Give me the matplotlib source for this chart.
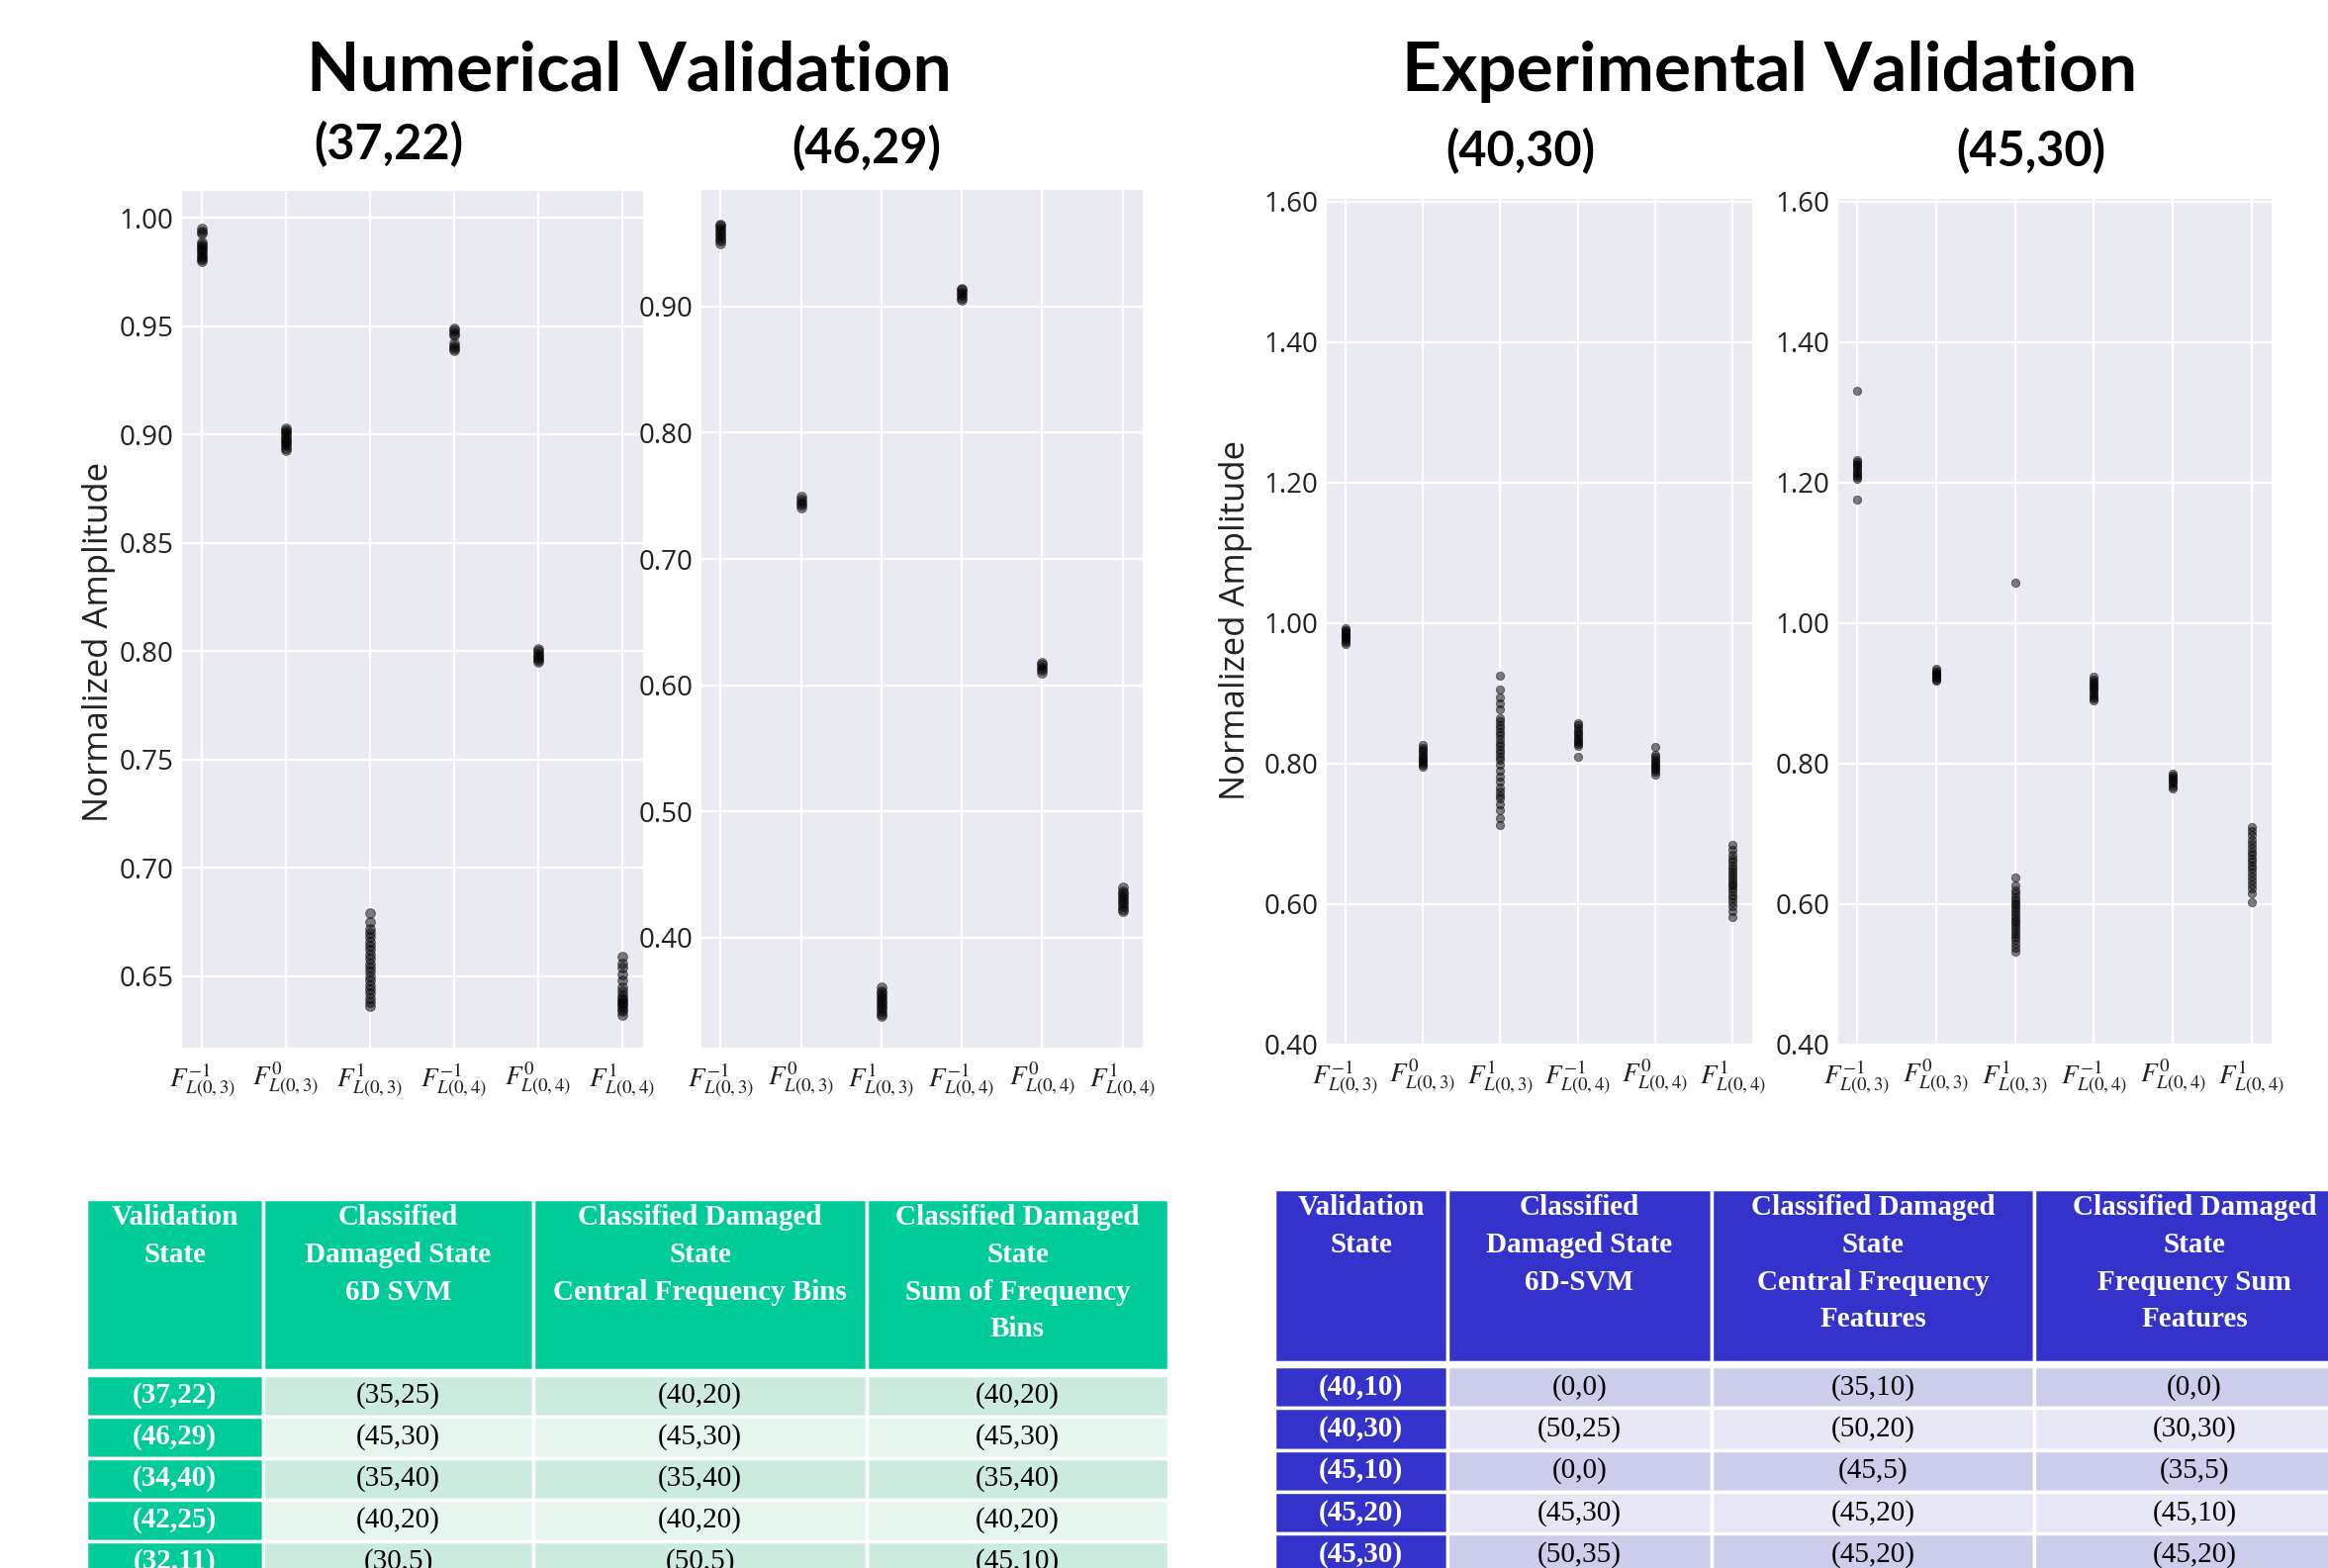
import numpy as np
import matplotlib
matplotlib.use('Agg')
import matplotlib.pyplot as plt
import seaborn as sns
from matplotlib.patches import Rectangle
from matplotlib.ticker import FormatStrFormatter

sns.set_style('darkgrid')
plt.rcParams['font.family'] = ['Open Sans', 'DejaVu Sans']
plt.rcParams['mathtext.fontset'] = 'stix'

features = [r'$F^{-1}_{L(0,3)}$', r'$F^{0}_{L(0,3)}$', r'$F^{1}_{L(0,3)}$',
            r'$F^{-1}_{L(0,4)}$', r'$F^{0}_{L(0,4)}$', r'$F^{1}_{L(0,4)}$']

# numerical validation, state (37,22)
num_37_22 = [
    [0.980, 0.981, 0.982, 0.983, 0.984, 0.985, 0.986, 0.987, 0.988, 0.989, 0.993, 0.994, 0.995],
    [0.893, 0.894, 0.895, 0.896, 0.897, 0.898, 0.899, 0.900, 0.901, 0.902, 0.903],
    [0.636, 0.638, 0.640, 0.642, 0.644, 0.646, 0.648, 0.650, 0.652, 0.654, 0.656, 0.658,
     0.660, 0.662, 0.664, 0.666, 0.668, 0.670, 0.672, 0.675, 0.679],
    [0.939, 0.940, 0.941, 0.942, 0.946, 0.947, 0.948, 0.949],
    [0.795, 0.796, 0.797, 0.798, 0.799, 0.800, 0.801],
    [0.632, 0.634, 0.635, 0.636, 0.637, 0.638, 0.639, 0.640, 0.641, 0.643, 0.645, 0.648,
     0.651, 0.654, 0.656, 0.659],
]
# numerical validation, state (46,29)
num_46_29 = [
    [0.950, 0.952, 0.954, 0.956, 0.958, 0.960, 0.962, 0.964, 0.965],
    [0.741, 0.743, 0.745, 0.747, 0.749],
    [0.338, 0.340, 0.342, 0.344, 0.346, 0.348, 0.350, 0.352, 0.354, 0.356, 0.358, 0.361],
    [0.905, 0.907, 0.909, 0.911, 0.913, 0.914],
    [0.610, 0.612, 0.614, 0.616, 0.618],
    [0.421, 0.423, 0.425, 0.427, 0.429, 0.431, 0.433, 0.435, 0.437, 0.440],
]
# experimental validation, state (40,30)
exp_40_30 = [
    [0.970, 0.973, 0.976, 0.978, 0.980, 0.982, 0.984, 0.986, 0.988, 0.990, 0.993],
    [0.795, 0.798, 0.801, 0.804, 0.807, 0.810, 0.813, 0.816, 0.819, 0.822, 0.826],
    [0.713, 0.722, 0.733, 0.742, 0.750, 0.755, 0.760, 0.766, 0.774, 0.782, 0.790, 0.798,
     0.805, 0.810, 0.815, 0.820, 0.825, 0.830, 0.835, 0.840, 0.845, 0.850, 0.855, 0.860,
     0.865, 0.877, 0.886, 0.894, 0.905, 0.925],
    [0.810, 0.825, 0.828, 0.831, 0.834, 0.837, 0.840, 0.843, 0.846, 0.850, 0.854, 0.858],
    [0.785, 0.788, 0.791, 0.794, 0.797, 0.800, 0.803, 0.806, 0.809, 0.812, 0.824],
    [0.581, 0.590, 0.597, 0.603, 0.608, 0.613, 0.618, 0.622, 0.626, 0.630, 0.634, 0.638,
     0.642, 0.646, 0.650, 0.655, 0.660, 0.665, 0.670, 0.677, 0.684],
]
# experimental validation, state (45,30)
exp_45_30 = [
    [1.175, 1.205, 1.208, 1.211, 1.214, 1.217, 1.220, 1.223, 1.226, 1.229, 1.232, 1.330],
    [0.918, 0.920, 0.922, 0.924, 0.926, 0.928, 0.930, 0.932, 0.935],
    [0.532, 0.538, 0.544, 0.549, 0.554, 0.558, 0.562, 0.566, 0.570, 0.574, 0.578, 0.582,
     0.586, 0.590, 0.594, 0.598, 0.602, 0.606, 0.610, 0.615, 0.620, 0.626, 0.638, 1.058],
    [0.890, 0.893, 0.896, 0.899, 0.902, 0.905, 0.908, 0.911, 0.914, 0.917, 0.920, 0.924],
    [0.765, 0.768, 0.771, 0.774, 0.777, 0.780, 0.783, 0.786],
    [0.603, 0.615, 0.622, 0.628, 0.634, 0.640, 0.645, 0.650, 0.655, 0.660, 0.665, 0.670,
     0.675, 0.680, 0.686, 0.692, 0.698, 0.704, 0.710],
]

# tables
num_header = ['Validation\nState', 'Classified\nDamaged State\n6D SVM',
              'Classified Damaged\nState\nCentral Frequency Bins',
              'Classified Damaged\nState\nSum of Frequency\nBins']
num_rows = [['(37,22)', '(35,25)', '(40,20)', '(40,20)'],
            ['(46,29)', '(45,30)', '(45,30)', '(45,30)'],
            ['(34,40)', '(35,40)', '(35,40)', '(35,40)'],
            ['(42,25)', '(40,20)', '(40,20)', '(40,20)'],
            ['(32,11)', '(30,5)', '(50,5)', '(45,10)']]
exp_header = ['Validation\nState', 'Classified\nDamaged State\n6D-SVM',
              'Classified Damaged\nState\nCentral Frequency\nFeatures',
              'Classified Damaged\nState\nFrequency Sum\nFeatures']
exp_rows = [['(40,10)', '(0,0)', '(35,10)', '(0,0)'],
            ['(40,30)', '(50,25)', '(50,20)', '(30,30)'],
            ['(45,10)', '(0,0)', '(45,5)', '(35,5)'],
            ['(45,20)', '(45,30)', '(45,20)', '(45,10)'],
            ['(45,30)', '(50,35)', '(45,20)', '(45,20)']]

W, H = 2353, 1585
fig = plt.figure(figsize=(W / 100, H / 100), dpi=100)


def px_axes(x0, y0, x1, y1):
    return fig.add_axes([x0 / W, 1 - y1 / H, (x1 - x0) / W, (y1 - y0) / H])


def px_text(x, y, s, **kw):
    fig.text(x / W, 1 - y / H, s, ha='center', va='center', **kw)


def px_rect(x0, y0, x1, y1, color):
    fig.add_artist(Rectangle((x0 / W, 1 - y1 / H), (x1 - x0) / W, (y1 - y0) / H,
                             transform=fig.transFigure, facecolor=color,
                             edgecolor='white', linewidth=2.5))


panels = [
    (num_37_22, (183, 192, 650, 1059), (0.617, 1.013), np.arange(0.65, 1.001, 0.05), (-0.141, 0.473), 50),
    (num_46_29, (708, 191, 1155, 1059), (0.313, 0.993), np.arange(0.40, 0.901, 0.10), None, 50),
    (exp_40_30, (1340, 200, 1771, 1056), (0.40, 1.605), np.arange(0.40, 1.601, 0.20), (-0.172, 0.501), 36),
    (exp_45_30, (1857, 200, 2296, 1056), (0.40, 1.605), np.arange(0.40, 1.601, 0.20), None, 36),
]

for data, box, ylim, yticks, label_pos, size in panels:
    ax = px_axes(*box)
    for i, vals in enumerate(data):
        ax.scatter(np.full(len(vals), i), vals, s=size, color='black', alpha=0.5,
                   edgecolors='black', linewidths=0.6, zorder=3)
    ax.set_xlim(-0.25, 5.25)
    ax.set_ylim(*ylim)
    ax.set_xticks(range(6))
    ax.set_xticklabels(features, fontsize=19.5)
    ax.set_yticks(yticks)
    ax.yaxis.set_major_formatter(FormatStrFormatter('%.2f'))
    ax.tick_params(axis='y', labelsize=20, pad=2, labelcolor='#222222')
    ax.tick_params(axis='x', pad=6, labelcolor='#222222')
    ax.grid(True, color='white', linewidth=1.6)
    if label_pos is not None:
        ax.set_ylabel('Normalized Amplitude', fontsize=25, color='#222222')
        ax.yaxis.set_label_coords(*label_pos)

title_kw = dict(fontfamily='Lato', fontweight='bold', color='black')
px_text(636, 72, 'Numerical Validation', fontsize=50, **title_kw)
px_text(1789, 72, 'Experimental Validation', fontsize=50, **title_kw)
px_text(393, 146, '(37,22)', fontsize=35, **title_kw)
px_text(876, 150, '(46,29)', fontsize=35, **title_kw)
px_text(1537, 153, '(40,30)', fontsize=35, **title_kw)
px_text(2053, 153, '(45,30)', fontsize=35, **title_kw)


def draw_table(cols, head_top, head_bot, row_top, row_pitch, line0, header, rows,
               dark, band1, band2):
    for j in range(4):
        px_rect(cols[j], head_top, cols[j + 1], head_bot, dark)
        cx = (cols[j] + cols[j + 1]) / 2
        for k, line in enumerate(header[j].split('\n')):
            px_text(cx, line0 + k * 37.6, line, fontsize=21, fontfamily='Liberation Serif',
                    fontweight='bold', color='white')
    for r, row in enumerate(rows):
        y0 = row_top + r * row_pitch
        y1 = y0 + row_pitch
        for j in range(4):
            if j == 0:
                col, txt_col, wt = dark, 'white', 'bold'
            else:
                col, txt_col, wt = (band1 if r % 2 == 0 else band2), 'black', 'normal'
            px_rect(cols[j], y0, cols[j + 1], y1, col)
            px_text((cols[j] + cols[j + 1]) / 2, (y0 + y1) / 2, row[j], fontsize=21,
                    fontfamily='Liberation Serif', fontweight=wt, color=txt_col)


draw_table([87, 266, 539, 876, 1181], 1212, 1385, 1390, 42, 1231,
           num_header, num_rows, '#00CC99', '#CCEBDF', '#E7F5EF')
draw_table([1288, 1463, 1730, 2056, 2380], 1202, 1377, 1381, 42.3, 1221,
           exp_header, exp_rows, '#3333CC', '#CCCCEB', '#E7E7F5')

fig.savefig('out.png', dpi=100)
